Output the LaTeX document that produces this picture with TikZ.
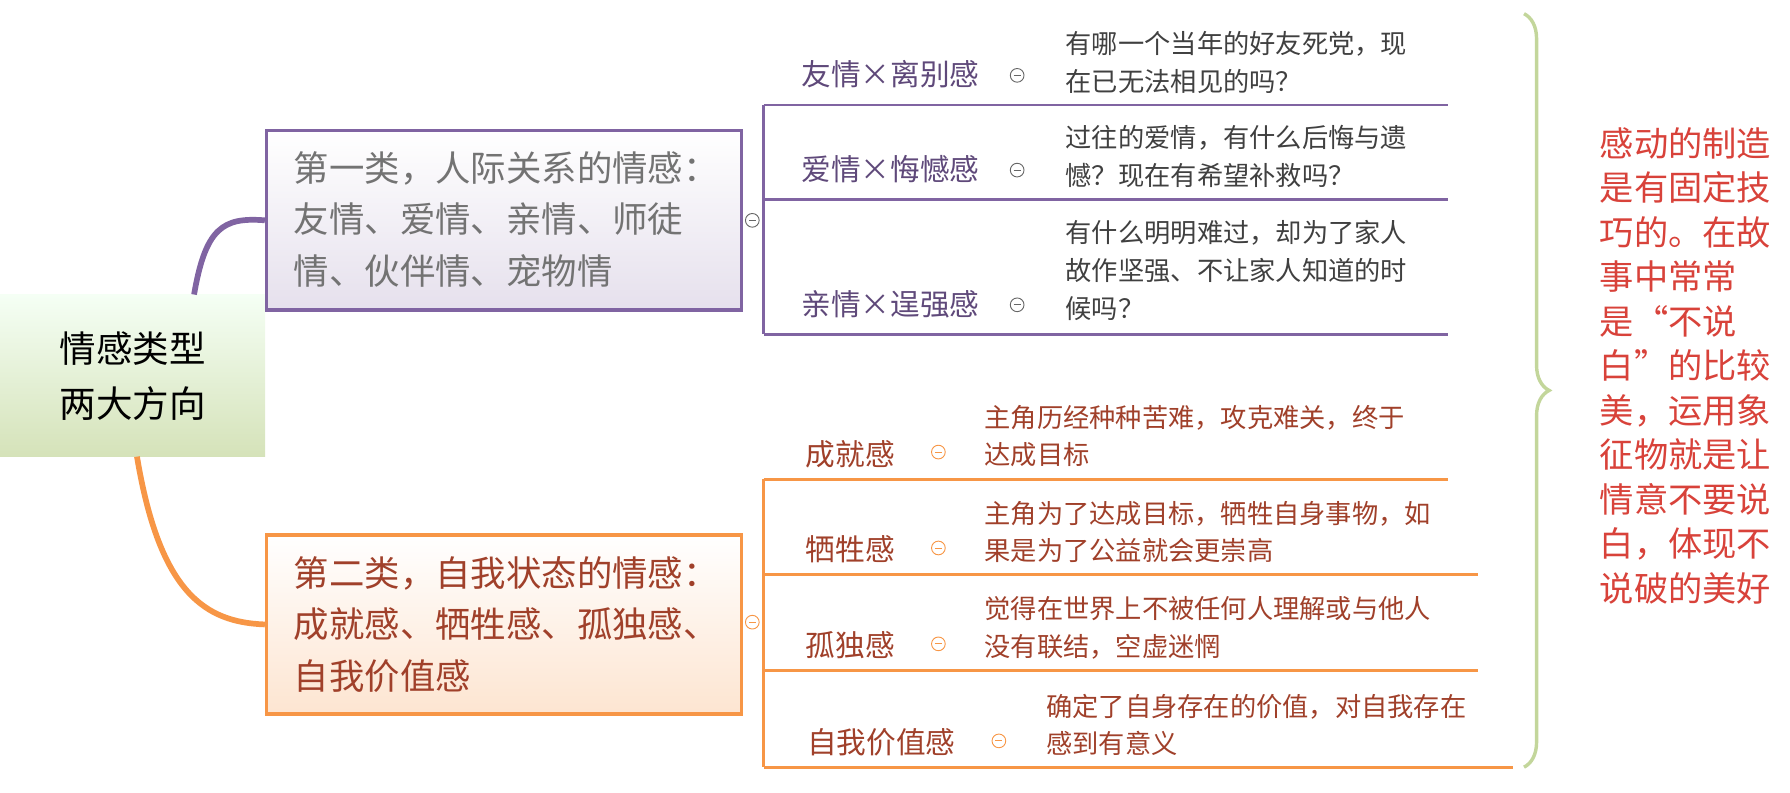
\documentclass[tikz,border=0pt]{standalone}
\usepackage{fontspec}
\setmainfont{Noto Sans CJK SC}
\usetikzlibrary{decorations.pathreplacing,shadings}
\definecolor{purp}{HTML}{8064A2}
\definecolor{purptext}{HTML}{5F497A}
\definecolor{oran}{HTML}{F79646}
\definecolor{orantext}{HTML}{A0402A}
\definecolor{leafgreen}{HTML}{C3D69B}
\definecolor{notered}{HTML}{D8423A}
\tikzset{
  topic/.style = {font=\fontsize{26}{28}\selectfont, anchor=base},
  desc/.style = {font=\fontsize{23}{33}\selectfont, align=left, anchor=west, text=black!75},
  fold/.style = {draw, circle, inner sep=0pt, minimum size=12pt, line width=0.8pt,
                 path picture={\draw (path picture bounding box.west) ++(3pt,0) -- ++(6pt,0);}},
}
\begin{document}
\begin{tikzpicture}[x=1pt,y=-1pt]
\useasboundingbox (0,0) rectangle (1568,694);
% root
\node[draw=none, top color=green!4!white, bottom color=leafgreen!70!white, shading angle=0,
    minimum width=232pt, minimum height=142pt, inner sep=0pt, anchor=north west,
    font=\fontsize{32}{48}\selectfont, align=left] (root) at (0,258) {情感类型\\两大方向};
% first class
\node[draw=purp, line width=3pt, top color=white, bottom color=purp!20!white,
    minimum width=416pt, minimum height=157pt, inner sep=0pt, anchor=north west] (cls1) at (232,113) {};
\node[anchor=west, align=left, text=black!55, font=\fontsize{31}{45}\selectfont] (t1) at (254,192)
  {第一类，人际关系的情感：\\友情、爱情、亲情、师徒\\情、伙伴情、宠物情};
% second class
\node[draw=oran, line width=3pt, top color=white, bottom color=oran!25!white,
    minimum width=416pt, minimum height=157pt, inner sep=0pt, anchor=north west] (cls2) at (232,467) {};
\node[anchor=west, align=left, text=orantext, font=\fontsize{31}{45}\selectfont] (t2) at (254,547)
  {第二类，自我状态的情感：\\成就感、牺牲感、孤独感、\\自我价值感};
% curves
\draw[purp, line width=5pt] (170,258) .. controls (180,200) and (195,190) .. (cls1.west);
\draw[oran, line width=5pt] (120,400) .. controls (140,520) and (180,545) .. (cls2.west);
\node[fold, draw=black!60] (f1) at (659,193) {};
\node[fold, draw=oran] (f2) at (659,545) {};
% purple branch
\draw[purp, line width=2.5pt] (669,92) -- (669,293);
\foreach \y in {92,175,293} \draw[purp, line width=2.5pt] (669,\y) -- (1268,\y);
\node[topic, text=purptext] (a1) at (780,75) {友情×离别感};
\node[topic, text=purptext] (a2) at (780,158) {爱情×悔憾感};
\node[topic, text=purptext] (a3) at (780,276) {亲情×逞强感};
\foreach \y in {66,149,267} \node[fold, draw=black!60] at (891,\y) {};
\node[desc] (d1) at (930,55) {有哪一个当年的好友死党，现\\在已无法相见的吗？};
\node[desc] (d2) at (930,137) {过往的爱情，有什么后悔与遗\\憾？现在有希望补救吗？};
\node[desc] (d3) at (930,237) {有什么明明难过，却为了家人\\故作坚强、不让家人知道的时\\候吗？};
% orange branch
\draw[oran, line width=2.5pt] (669,420) -- (669,672);
\draw[oran, line width=2.5pt] (669,420) -- (1268,420);
\draw[oran, line width=2.5pt] (669,503) -- (1295,503);
\draw[oran, line width=2.5pt] (669,587) -- (1295,587);
\draw[oran, line width=2.5pt] (669,672) -- (1325,672);
\node[topic, text=orantext] (b1) at (745,408) {成就感};
\node[topic, text=orantext] (b2) at (745,491) {牺牲感};
\node[topic, text=orantext] (b3) at (745,575) {孤独感};
\node[topic, text=orantext] (b4) at (772,660) {自我价值感};
\foreach \x/\y in {822/396,822/480,822/564,875/649} \node[fold, draw=oran] at (\x,\y) {};
\node[desc, text=orantext] (e1) at (859,382) {主角历经种种苦难，攻克难关，终于\\达成目标};
\node[desc, text=orantext] (e2) at (859,466) {主角为了达成目标，牺牲自身事物，如\\果是为了公益就会更崇高};
\node[desc, text=orantext] (e3) at (859,550) {觉得在世界上不被任何人理解或与他人\\没有联结，空虚迷惘};
\node[desc, text=orantext] (e4) at (913,635) {确定了自身存在的价值，对自我存在\\感到有意义};
% brace and note
\draw[leafgreen, line width=3pt, decorate, decoration={brace, amplitude=22pt}] (1335,12) -- (1335,672);
\node[anchor=north west, align=left, text=notered, font=\fontsize{30}{39}\selectfont] (note) at (1398,108)
  {感动的制造\\是有固定技\\巧的。在故\\事中常常\\是“不说\\白”的比较\\美，运用象\\征物就是让\\情意不要说\\白，体现不\\说破的美好};
\end{tikzpicture}
\end{document}
